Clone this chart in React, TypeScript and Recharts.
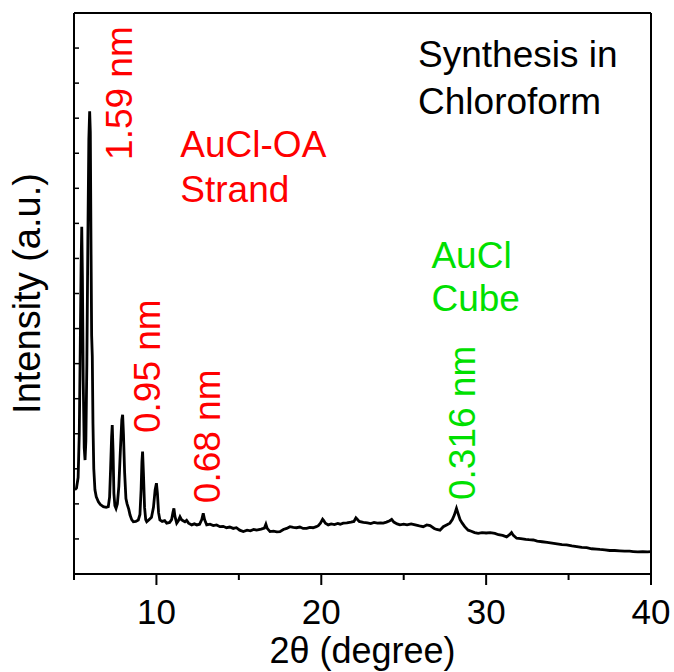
import React from 'react';
import { LineChart, Line, XAxis, YAxis, ReferenceLine, ReferenceDot } from 'recharts';

const twoTheta = [
  5.05, 5.15, 5.25, 5.32, 5.38, 5.43, 5.47, 5.51, 5.56, 5.62, 5.67, 5.72, 5.78, 5.84, 5.9, 5.95, 5.99, 6.03, 6.07, 6.11,
  6.15, 6.2, 6.27, 6.35, 6.48, 6.6, 6.78, 6.95, 7.08, 7.16, 7.22, 7.28, 7.32, 7.37, 7.42, 7.48, 7.55, 7.63, 7.72, 7.82,
  7.9, 7.95, 8.0, 8.07, 8.15, 8.22, 8.32, 8.4, 8.5, 8.6, 8.75, 8.9, 9.0, 9.07, 9.12, 9.16, 9.21, 9.28, 9.35, 9.41,
  9.55, 9.7, 9.82, 9.92, 10.0, 10.06, 10.13, 10.21, 10.35, 10.5, 10.62, 10.8, 10.92, 11.0, 11.06, 11.12, 11.23, 11.33, 11.43, 11.52,
  11.62, 11.73, 11.83, 11.95, 12.14, 12.3, 12.45, 12.62, 12.75, 12.84, 12.92, 13.05, 13.25, 13.45, 13.65, 13.85, 14.05, 14.25, 14.45, 14.66,
  14.85, 15.05, 15.27, 15.5, 15.7, 15.9, 16.08, 16.35, 16.55, 16.64, 16.72, 16.89, 17.1, 17.3, 17.49, 17.7, 17.9, 18.1, 18.3, 18.5,
  18.7, 18.9, 19.11, 19.3, 19.5, 19.7, 19.82, 19.95, 20.08, 20.15, 20.25, 20.42, 20.6, 20.8, 21.0, 21.15, 21.33, 21.55, 21.8, 21.98,
  22.1, 22.18, 22.3, 22.55, 22.8, 23.0, 23.2, 23.4, 23.6, 23.76, 23.95, 24.15, 24.27, 24.4, 24.6, 24.77, 25.0, 25.2, 25.45, 25.7,
  25.95, 26.18, 26.4, 26.6, 26.85, 27.0, 27.2, 27.4, 27.6, 27.8, 27.95, 28.07, 28.2, 28.3, 28.42, 28.55, 28.7, 28.91, 29.1, 29.3,
  29.52, 29.75, 30.0, 30.25, 30.53, 30.75, 31.0, 31.24, 31.42, 31.54, 31.65, 31.85, 32.1, 32.4, 32.6, 32.86, 33.1, 33.4, 33.7, 34.0,
  34.3, 34.6, 34.88, 35.2, 35.5, 35.8, 36.1, 36.4, 36.7, 36.9, 37.2, 37.5, 37.8, 38.1, 38.4, 38.7, 38.92, 39.2, 39.5, 39.8,
  40.0,
];

const intensity = [
  2.4, 2.45, 2.75, 4.0, 6.5, 8.8, 9.9, 8.5, 5.5, 3.6, 3.25, 3.8, 6.0, 9.5, 12.4, 13.2, 12.6, 9.5, 6.8, 6.2,
  4.3, 3.0, 2.4, 2.2, 2.06, 1.98, 1.92, 1.9, 1.92, 2.2, 3.0, 3.9, 4.25, 3.5, 2.3, 1.95, 1.87, 2.0, 2.5, 3.6,
  4.4, 4.54, 4.0, 2.9, 2.15, 2.0, 1.85, 1.68, 1.55, 1.49, 1.5, 1.54, 1.7, 2.4, 3.2, 3.49, 2.9, 1.9, 1.55, 1.49,
  1.55, 1.62, 1.9, 2.4, 2.59, 2.3, 1.75, 1.54, 1.5, 1.52, 1.45, 1.47, 1.55, 1.75, 1.87, 1.65, 1.45, 1.52, 1.63, 1.55,
  1.52, 1.49, 1.53, 1.45, 1.4, 1.43, 1.4, 1.42, 1.55, 1.73, 1.55, 1.4, 1.42, 1.38, 1.4, 1.35, 1.36, 1.32, 1.34, 1.3,
  1.32, 1.25, 1.21, 1.25, 1.23, 1.27, 1.25, 1.28, 1.31, 1.42, 1.3, 1.21, 1.22, 1.2, 1.21, 1.27, 1.3, 1.35, 1.33, 1.32,
  1.34, 1.3, 1.3, 1.33, 1.32, 1.35, 1.38, 1.45, 1.56, 1.52, 1.45, 1.4, 1.43, 1.41, 1.44, 1.42, 1.45, 1.46, 1.48, 1.5,
  1.6, 1.56, 1.5, 1.47, 1.46, 1.44, 1.47, 1.45, 1.46, 1.45, 1.48, 1.52, 1.56, 1.48, 1.43, 1.4, 1.42, 1.4, 1.43, 1.4,
  1.37, 1.35, 1.4, 1.38, 1.3, 1.27, 1.25, 1.35, 1.4, 1.45, 1.55, 1.68, 1.87, 1.72, 1.55, 1.45, 1.35, 1.25, 1.22, 1.18,
  1.16, 1.18, 1.17, 1.18, 1.16, 1.12, 1.1, 1.06, 1.12, 1.18, 1.1, 1.02, 1.01, 0.99, 0.98, 0.97, 0.94, 0.92, 0.9, 0.88,
  0.86, 0.84, 0.83, 0.8, 0.78, 0.76, 0.75, 0.72, 0.71, 0.7, 0.69, 0.67, 0.67, 0.66, 0.65, 0.65, 0.64, 0.63, 0.64, 0.63,
  0.64,
];

const xTicks = [5, 10, 15, 20, 25, 30, 35, 40];
const yTicks = [0, 1, 2, 3, 4, 5, 6, 7, 8, 9, 10, 11, 12, 13, 14, 15, 16];

const annoText = ['1.59 nm', '0.95 nm', '0.68 nm', '0.316 nm', 'AuCl-OA', 'Strand', 'AuCl', 'Cube', 'Synthesis in', 'Chloroform'];
const annoX = [8.52, 10.22, 13.86, 29.32, 11.45, 11.45, 26.68, 26.68, 25.87, 25.87];
const annoY = [11.81, 4.02, 2.02, 2.11, 11.89, 10.61, 8.73, 7.5, 14.46, 13.12];
const annoColor = ['#ff0000', '#ff0000', '#ff0000', '#00e000', '#ff0000', '#ff0000', '#00e000', '#00e000', '#000000', '#000000'];
const annoRotated = [true, true, true, true, false, false, false, false, false, false];

const data = twoTheta.map((x, i) => ({ x, y: intensity[i] }));
const FONT = '"Liberation Sans", Arial, Helvetica, sans-serif';

const XTick = (props: any) => {
  const { x, y, payload } = props;
  const major = payload.value % 10 === 0;
  return (
    <g>
      <line x1={x} x2={x} y1={y} y2={y + (major ? 11 : 6)} stroke="#000" strokeWidth={2} />
      {major && (
        <text x={x} y={y + 50} textAnchor="middle" fontSize={35} fontFamily={FONT} fill="#000">
          {payload.value}
        </text>
      )}
    </g>
  );
};

const YTick = (props: any) => {
  const { x, y } = props;
  return <line x1={x} x2={x + 5} y1={y} y2={y} stroke="#000" strokeWidth={1.5} />;
};

const makeAnno = (i: number) => (p: any) => {
  const vb = p.viewBox || {};
  const cx = (vb.x ?? 0) + (vb.width ?? 0) / 2;
  const cy = (vb.y ?? 0) + (vb.height ?? 0) / 2;
  return (
    <text
      x={cx}
      y={cy}
      fontSize={37}
      fontFamily={FONT}
      fill={annoColor[i]}
      textAnchor="start"
      transform={annoRotated[i] ? `rotate(-90, ${cx}, ${cy})` : undefined}
    >
      {annoText[i]}
    </text>
  );
};

export default function App() {
  return (
    <div style={{ position: 'absolute', left: 0, top: 0 }}>
      <LineChart width={674} height={672} data={data} margin={{ top: 13, right: 23, left: 0, bottom: 0 }}>
        <XAxis
          dataKey="x"
          type="number"
          domain={[5, 40]}
          ticks={xTicks}
          interval={0}
          tickSize={0}
          tickMargin={0}
          tickLine={false}
          tick={<XTick />}
          height={98}
          axisLine={{ stroke: '#000', strokeWidth: 2 }}
          allowDataOverflow
          label={{
            content: (p: any) => {
              const vb = p.viewBox;
              return (
                <text x={vb.x + vb.width / 2} y={vb.y + 89} textAnchor="middle" fontSize={36} fontFamily={FONT} fill="#000">
                  2θ (degree)
                </text>
              );
            },
          }}
        />
        <YAxis
          type="number"
          domain={[0, 16]}
          ticks={yTicks}
          interval={0}
          tickSize={0}
          tickMargin={0}
          tickLine={false}
          tick={<YTick />}
          width={74}
          axisLine={{ stroke: '#000', strokeWidth: 2 }}
          allowDataOverflow
          label={{
            content: (p: any) => {
              const vb = p.viewBox;
              const cx = 40;
              const cy = vb.y + vb.height / 2;
              return (
                <text x={cx} y={cy} textAnchor="middle" fontSize={38} fontFamily={FONT} fill="#000" transform={`rotate(-90, ${cx}, ${cy})`}>
                  Intensity (a.u.)
                </text>
              );
            },
          }}
        />
        <ReferenceLine y={16} stroke="#000" strokeWidth={2} />
        <ReferenceLine x={40} stroke="#000" strokeWidth={2} />
        <Line type="linear" dataKey="y" stroke="#000" strokeWidth={2.8} dot={false} isAnimationActive={false} />
        {annoText.map((t, i) => (
          <ReferenceDot key={t} x={annoX[i]} y={annoY[i]} r={0} fill="none" stroke="none" label={{ content: makeAnno(i) }} />
        ))}
      </LineChart>
    </div>
  );
}
